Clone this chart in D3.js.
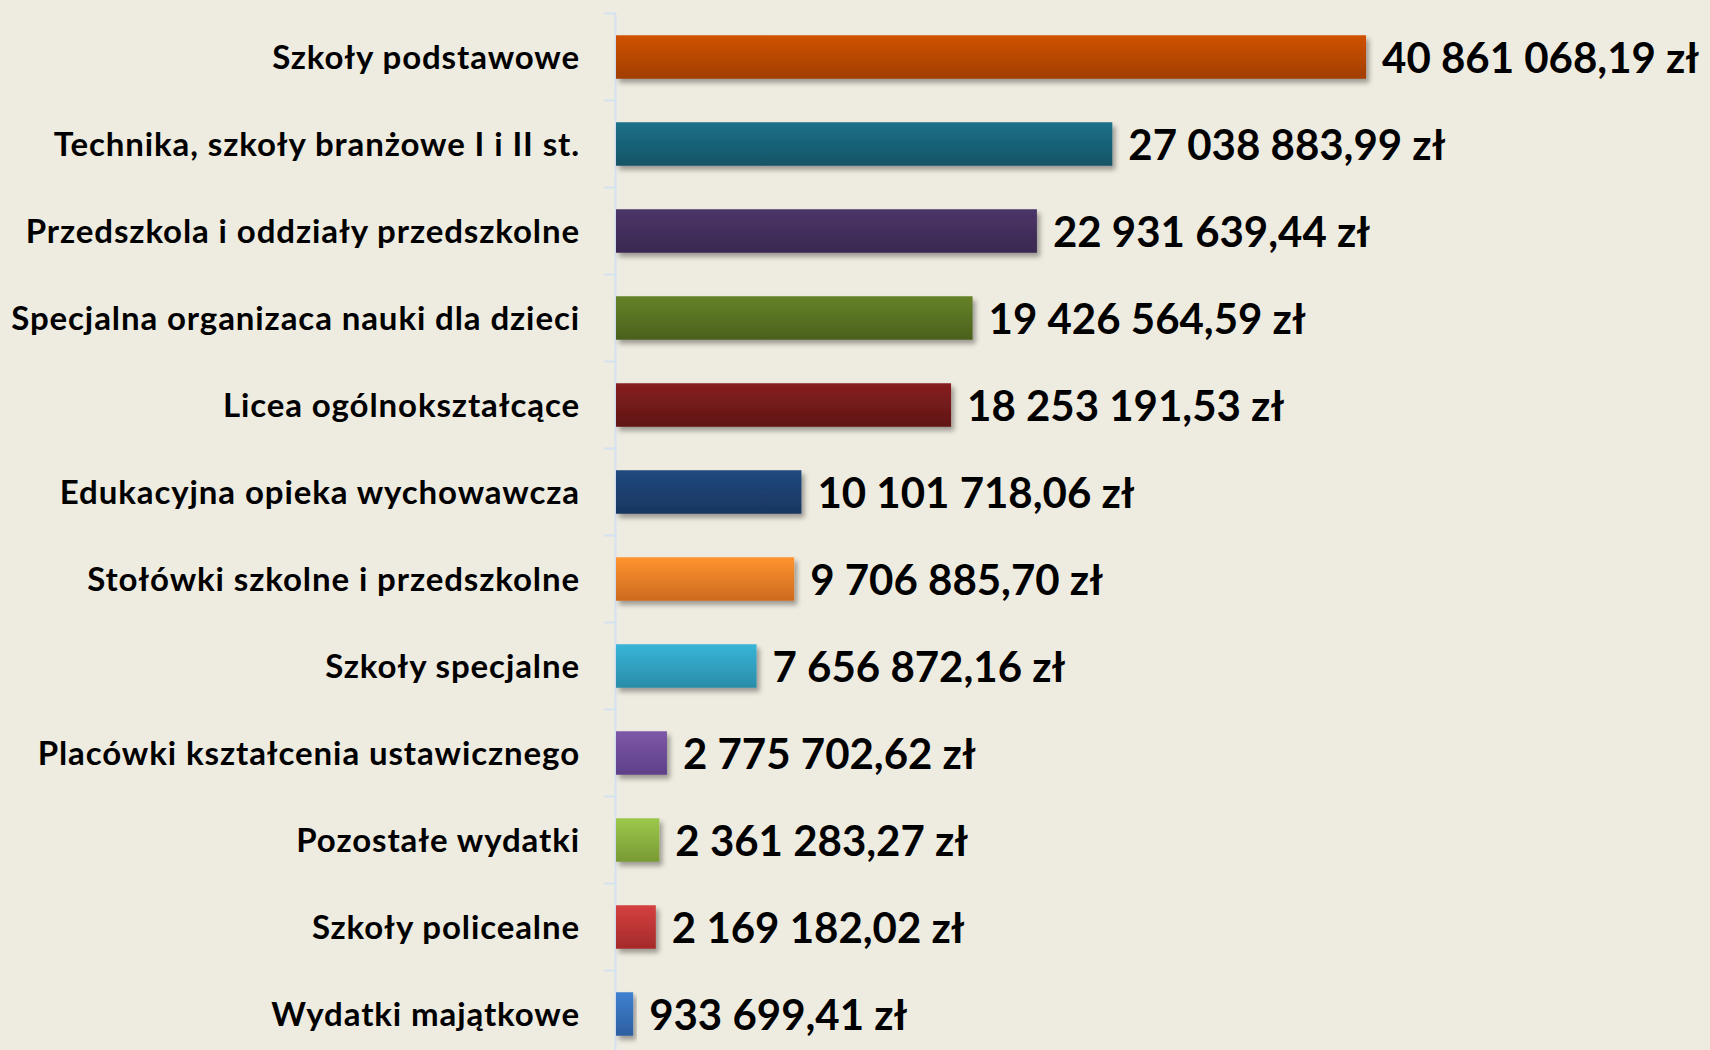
<!DOCTYPE html>
<html>
<head>
<meta charset="utf-8">
<script src="https://cdn.jsdelivr.net/npm/d3@7"></script>
<style>
  html, body { margin: 0; padding: 0; background: #EEEBE0; }
  svg text { font-family: Lato, "Open Sans", sans-serif; font-weight: bold; fill: #000; }
</style>
</head>
<body>
<div id="chart"></div>
<script>
    var categories = [
        "Szkoły podstawowe",
        "Technika, szkoły branżowe I i II st.",
        "Przedszkola i oddziały przedszkolne",
        "Specjalna organizaca nauki dla dzieci",
        "Licea ogólnokształcące",
        "Edukacyjna opieka wychowawcza",
        "Stołówki szkolne i przedszkolne",
        "Szkoły specjalne",
        "Placówki kształcenia ustawicznego",
        "Pozostałe wydatki",
        "Szkoły policealne",
        "Wydatki majątkowe"
    ];
    var values = [40861068.19, 27038883.99, 22931639.44, 19426564.59, 18253191.53,
                  10101718.06, 9706885.70, 7656872.16, 2775702.62, 2361283.27,
                  2169182.02, 933699.41];
    var topColors = ["#D05200", "#1C7189", "#4B3568", "#668228", "#862020", "#21497E",
                     "#FF9430", "#38B5D8", "#7E57A8", "#9DC84C", "#D54040", "#3F80D0"];
    var bottomColors = ["#A03E00", "#155466", "#3A2850", "#4A601C", "#601515", "#183660",
                        "#CC6A1E", "#2A8CA8", "#5E4088", "#789A34", "#A52A2A", "#2C5FA0"];

    var width = 1710, height = 1050;
    var axisX = 616;

    var svg = d3.select('#chart').append('svg')
        .attr('width', width)
        .attr('height', height)
        .style('display', 'block');

    var defs = svg.append('defs');
    var shadow = defs.append('filter').attr('id', 'shadow')
        .attr('x', '-10%').attr('y', '-30%').attr('width', '130%').attr('height', '180%');
    shadow.append('feDropShadow')
        .attr('dx', 3).attr('dy', 4).attr('stdDeviation', 2.5)
        .attr('flood-color', '#000').attr('flood-opacity', 0.35);

    categories.forEach(function(c, i) {
        var g = defs.append('linearGradient').attr('id', 'grad' + i)
            .attr('x1', 0).attr('y1', 0).attr('x2', 0).attr('y2', 1);
        g.append('stop').attr('offset', '0%').attr('stop-color', topColors[i]);
        g.append('stop').attr('offset', '100%').attr('stop-color', bottomColors[i]);
    });

    var yScale = d3.scaleBand()
        .domain(categories)
        .range([13.5, 13.5 + 87 * categories.length])
        .paddingInner(0.5)
        .paddingOuter(0.25);

    var xScale = d3.scaleLinear()
        .domain([0, 45000000])
        .range([axisX, axisX + 826]);

    // axis line and tick marks between categories
    var axisG = svg.append('g').attr('class', 'y axis');
    axisG.append('line')
        .attr('x1', axisX - 0.5).attr('x2', axisX - 0.5)
        .attr('y1', 13.5).attr('y2', height)
        .attr('stroke', '#D5E2F2').attr('stroke-width', 2);
    axisG.selectAll('line.tick')
        .data(d3.range(categories.length + 1))
        .enter().append('line')
        .attr('class', 'tick')
        .attr('x1', axisX - 12).attr('x2', axisX)
        .attr('y1', function(d) { return 13.5 + d * yScale.step(); })
        .attr('y2', function(d) { return 13.5 + d * yScale.step(); })
        .attr('stroke', '#D5E2F2').attr('stroke-width', 2);

    var rows = svg.selectAll('g.row')
        .data(categories)
        .enter().append('g')
        .attr('class', 'row');

    rows.append('rect')
        .attr('x', xScale(0))
        .attr('y', function(d) { return yScale(d); })
        .attr('width', function(d, i) { return xScale(values[i]) - xScale(0); })
        .attr('height', yScale.bandwidth())
        .attr('fill', function(d, i) { return 'url(#grad' + i + ')'; })
        .attr('filter', 'url(#shadow)');

    rows.append('text')
        .attr('class', 'cat')
        .attr('x', 580)
        .attr('y', function(d) { return yScale(d) + yScale.bandwidth() / 2; })
        .attr('dy', '0.35em')
        .attr('text-anchor', 'end')
        .style('font-size', '33px')
        .style('letter-spacing', '0.9px')
        .text(function(d) { return d; });

    var pl = d3.formatLocale({decimal: ",", thousands: " ", grouping: [3], currency: ["", " zł"]});
    var fmt = pl.format("$,.2f");

    rows.append('text')
        .attr('class', 'val')
        .attr('x', function(d, i) { return xScale(values[i]) + 16; })
        .attr('y', function(d) { return yScale(d) + yScale.bandwidth() / 2; })
        .attr('dy', '0.38em')
        .style('font-size', '42px')
        .text(function(d, i) { return fmt(values[i]); });
</script>
</body>
</html>
